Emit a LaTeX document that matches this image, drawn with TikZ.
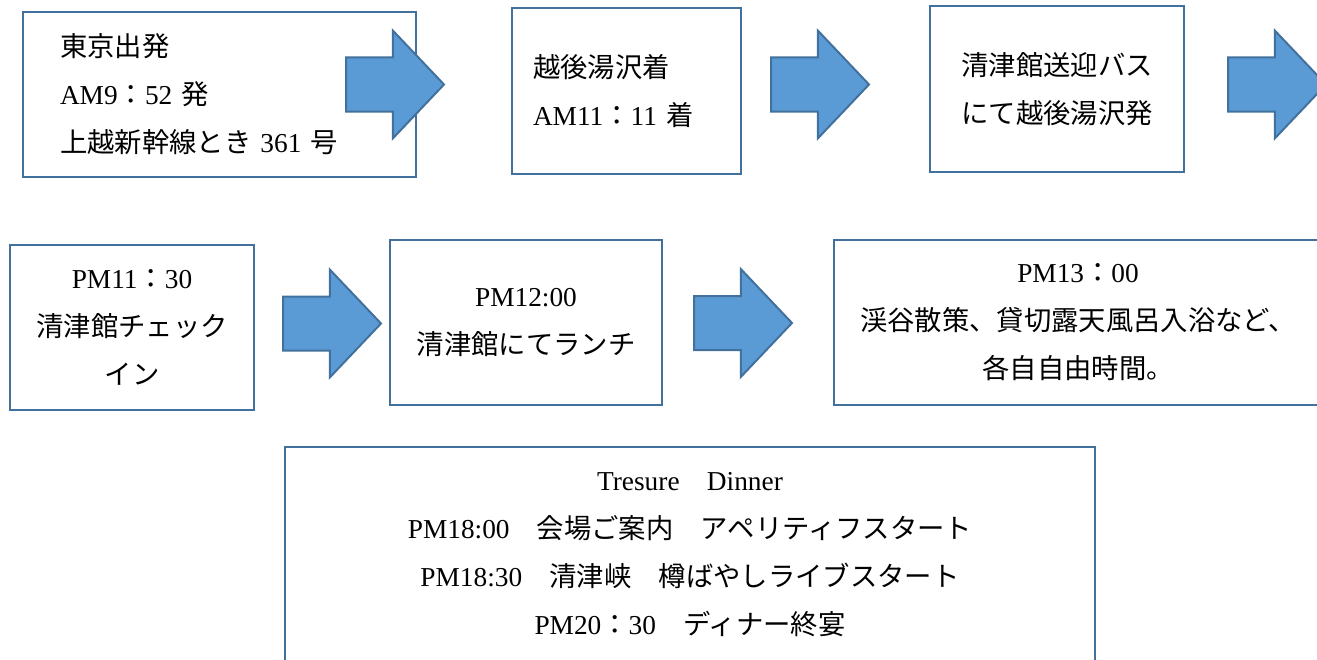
\documentclass[tikz,border=0pt]{standalone}
\usepackage{fontspec}
\usepackage{tikz}
\usepackage{xcolor}
\usetikzlibrary{shapes.arrows, positioning}
\setmainfont{Liberation Serif}
\newfontfamily\cjk{Noto Sans CJK JP}
\newcommand{\jp}[1]{{\cjk #1}}
\definecolor{lineblue}{HTML}{41719C}
\definecolor{fillblue}{HTML}{5B9BD5}
\tikzstyle{plan} = [rectangle, draw=lineblue, line width=1.9pt, fill=white, inner sep=0pt, align=center, font=\fontsize{20.5}{36}\selectfont]
\tikzstyle{planleft} = [plan, align=left]
\tikzstyle{bigarrow} = [single arrow, draw=lineblue, fill=fillblue, line width=1.5pt, inner xsep=0pt, inner ysep=19.5pt, minimum width=0pt, minimum height=73.5pt, single arrow head extend=20.25pt, single arrow tip angle=93, anchor=tail]

\begin{document}
\begin{tikzpicture}[x=0.75pt, y=-0.75pt]
    \useasboundingbox (0,0) rectangle (1317,660);
    \clip (0,0) rectangle (1317,660);
    % first row
    \node (tokyo) [planleft, minimum width=294.75pt, minimum height=123.75pt, text width=239.25pt] at (219.5,94.5) {\jp{東京出発}\\AM9\jp{：}52 \jp{発}\\\jp{上越新幹線とき} 361 \jp{号}};
    \node (yuzawa) [planleft, minimum width=171.75pt, minimum height=124.5pt, text width=140.25pt] at (626.5,91) {\jp{越後湯沢着}\\AM11\jp{：}11 \jp{着}};
    \node (bus) [plan, minimum width=190.5pt, minimum height=124.5pt] at (1057,89) {\jp{清津館送迎バス}\\\jp{にて越後湯沢発}};
    % second row
    \node (checkin) [plan, minimum width=183pt, minimum height=123.75pt] at (132,327.5) {PM11\jp{：}30\\\jp{清津館チェック}\\\jp{イン}};
    \node (lunch) [plan, minimum width=204pt, minimum height=123.75pt] at (526,322.5) {PM12:00\\\jp{清津館にてランチ}};
    \node (free) [plan, minimum width=366pt, minimum height=123.75pt] at (1078,322.5) {PM13\jp{：}00\\\jp{渓谷散策、貸切露天風呂入浴など、}\\\jp{各自自由時間。}};
    % dinner
    \node (dinner) [plan, minimum width=607.5pt, minimum height=162pt] at (690,555) {Tresure\jp{　}Dinner\\PM18:00\jp{　会場ご案内　アペリティフスタート}\\PM18:30\jp{　清津峡　樽ばやしライブスタート}\\PM20\jp{：}30\jp{　ディナー終宴}};
    % arrows
    \node (go1) [bigarrow] at (345,84.5) {};
    \node (go2) [bigarrow] at (770,84.5) {};
    \node (go3) [bigarrow] at (1227,84.5) {};
    \node (go4) [bigarrow] at (282,323.5) {};
    \node (go5) [bigarrow] at (693,323) {};
\end{tikzpicture}
\end{document}
